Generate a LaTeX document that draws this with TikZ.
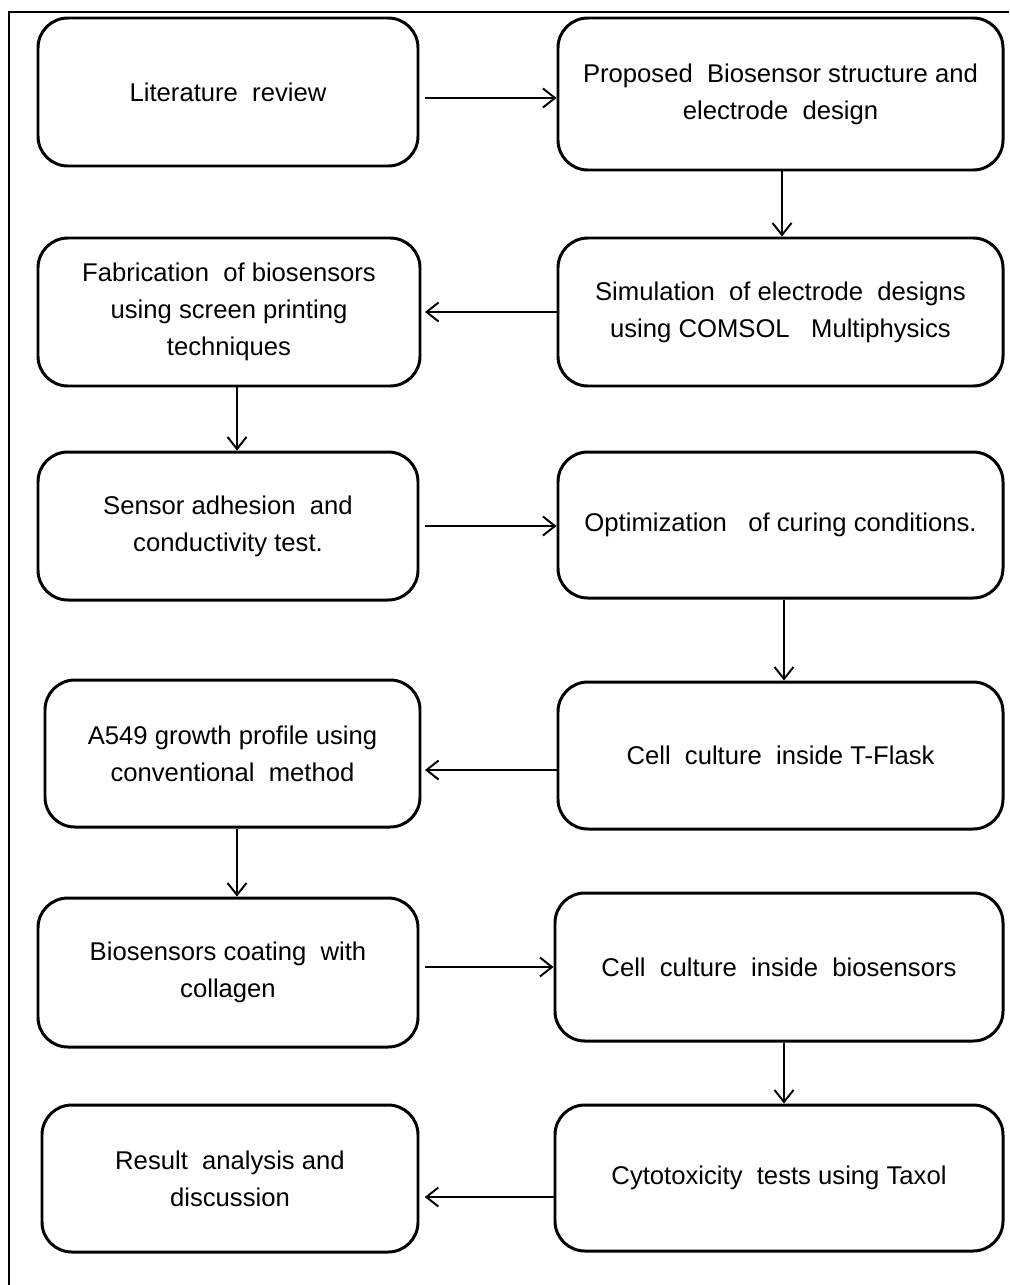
\documentclass[tikz,border=0pt]{standalone}
\usepackage{fontspec}
\setmainfont{Liberation Sans}
\usetikzlibrary{arrows.meta}

\begin{document}
\begin{tikzpicture}[x=0.02cm,y=-0.02cm,
    stepbox/.style={draw,line width=1.7pt,rounded corners=17pt,align=center,
      inner sep=0pt,font=\fontsize{14.6}{21}\selectfont},
    flow/.style={line width=1.1pt,-{Straight Barb[length=0.24cm,width=0.38cm,line width=1.1pt]}}]
		\useasboundingbox (0,0) rectangle (1009,1285);
		% outer frame, only left and top edges show
		\draw[line width=1.1pt] (9,1285) -- (9,12) -- (1009,12);
		% left column
		\node[stepbox,minimum width=380*0.02cm,minimum height=148*0.02cm] (lit) at (228,92) {Literature\ \ review};
		\node[stepbox,minimum width=382*0.02cm,minimum height=148*0.02cm] (fab) at (229,312) {Fabrication\ \ of biosensors\\using screen printing\\techniques};
		\node[stepbox,minimum width=380*0.02cm,minimum height=148*0.02cm] (adh) at (228,526) {Sensor adhesion\ \ and\\conductivity test.};
		\node[stepbox,minimum width=375*0.02cm,minimum height=147*0.02cm] (grow) at (232.5,753.5) {A549 growth profile using\\conventional\ \ method};
		\node[stepbox,minimum width=380*0.02cm,minimum height=149*0.02cm] (coat) at (228,972.5) {Biosensors coating\ \ with\\collagen};
		\node[stepbox,minimum width=376*0.02cm,minimum height=147*0.02cm] (res) at (230,1178.5) {Result\ \ analysis and\\discussion};
		% right column
		\node[stepbox,minimum width=445*0.02cm,minimum height=152*0.02cm] (struct) at (780.5,94) {Proposed\ \ Biosensor structure and\\electrode\ \ design};
		\node[stepbox,minimum width=445*0.02cm,minimum height=148*0.02cm] (sim) at (780.5,312) {Simulation\ \ of electrode\ \ designs\\using COMSOL\ \ \ Multiphysics};
		\node[stepbox,minimum width=445*0.02cm,minimum height=146*0.02cm] (cure) at (780.5,525) {Optimization\ \ \ of curing conditions.};
		\node[stepbox,minimum width=445*0.02cm,minimum height=147*0.02cm] (flask) at (780.5,755.5) {Cell\ \ culture\ \ inside T-Flask};
		\node[stepbox,minimum width=448*0.02cm,minimum height=148*0.02cm] (cult) at (779,967) {Cell\ \ culture\ \ inside\ \ biosensors};
		\node[stepbox,minimum width=448*0.02cm,minimum height=146*0.02cm] (tox) at (779,1178) {Cytotoxicity\ \ tests using Taxol};
		% arrows
		\draw[flow] ([xshift=3pt]lit.east |- 0,98) -- (struct.west |- 0,98);
		\draw[flow] (struct.south -| 782,0) -- (sim.north -| 782,0);
		\draw[flow] (sim.west) -- ([xshift=2pt]fab.east);
		\draw[flow] (fab.south -| 237,0) -- (adh.north -| 237,0);
		\draw[flow] ([xshift=3pt]adh.east) -- (cure.west |- adh.east);
		\draw[flow] (cure.south -| 784,0) -- (flask.north -| 784,0);
		\draw[flow] (flask.west |- 0,770) -- ([xshift=2pt]grow.east |- 0,770);
		\draw[flow] (grow.south -| 237,0) -- (coat.north -| 237,0);
		\draw[flow] ([xshift=3pt]coat.east |- 0,967) -- (cult.west |- 0,967);
		\draw[flow] (cult.south -| 784,0) -- (tox.north -| 784,0);
		\draw[flow] (tox.west |- 0,1197) -- ([xshift=3pt]res.east |- 0,1197);
		\end{tikzpicture}
\end{document}
